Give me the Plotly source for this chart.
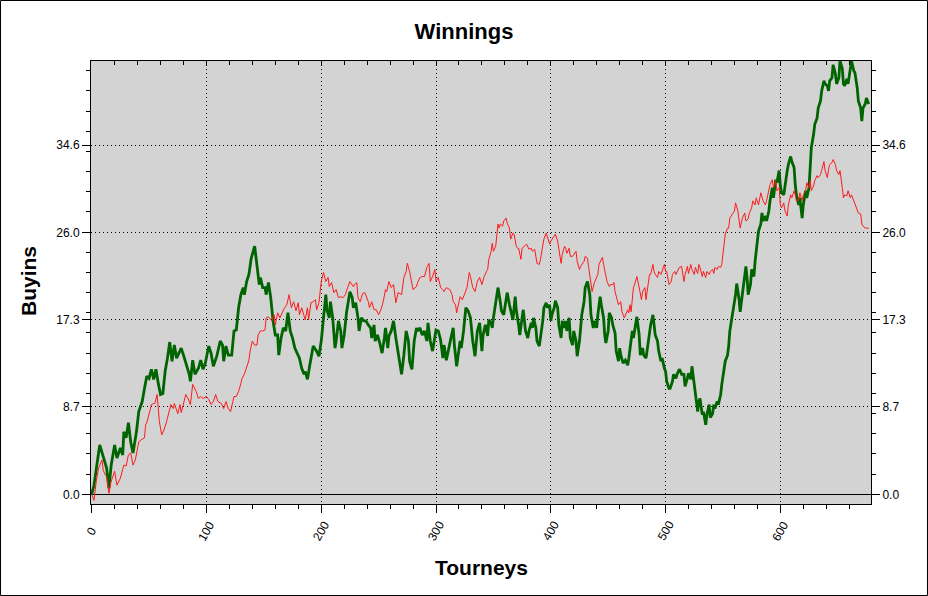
import plotly.graph_objects as go

# ---------------- data ----------------
green_t = [0, 2, 7, 10, 13, 15, 17, 20, 22, 25, 27, 28, 30, 32, 34, 36, 39, 41, 44, 46, 48, 50, 52, 54, 56, 58,
           60, 62, 64, 66, 68, 70, 72, 74, 76, 78, 80, 83, 85, 86, 88, 90, 93, 95, 97, 99, 102, 104, 106, 109,
           112, 114, 115,
           117, 119, 122, 124, 126, 128, 130, 132, 133, 135, 137, 139, 142, 144, 146, 147, 149, 151, 152, 154,
           156, 158, 160, 162, 163, 165, 167, 169, 171, 173, 175, 177, 179, 181, 183, 185, 186, 188, 190, 192,
           193, 196, 198, 200, 202, 204, 205, 207, 208, 210, 212, 213, 215, 217, 218, 220, 222, 225, 227, 228,
           230, 232, 233, 235, 237, 239, 241, 243, 244, 246, 247, 249, 251, 253, 255, 256, 258, 259, 261, 263,
           265, 267, 269, 270, 272, 274, 276, 277, 279, 281, 283, 284, 286, 288, 290, 292, 293, 295, 297, 299,
           300, 302, 304, 306, 307, 309, 311, 313, 315, 316, 318, 320, 321, 322, 324, 326, 328, 330, 332, 334,
           336, 338, 340, 341, 343, 345,
           346, 348, 349, 350, 352, 354, 356, 357, 359, 360, 362, 364, 365, 367, 369, 370, 372, 373, 375, 376,
           378, 380, 381, 383, 384, 385, 387, 388, 390, 391, 393, 394, 396, 397, 399, 400, 401, 403, 404, 406,
           407, 409, 410, 412, 413, 414, 416, 417, 419, 420, 422, 423, 425, 426, 427, 429, 430, 432, 434, 435,
           437, 438, 440, 441, 443, 444, 446, 447, 448, 450, 451, 453, 454, 456, 457, 459, 460, 461, 463,
           465, 467, 468, 470, 471, 472, 474, 475, 477, 478, 480, 481, 483, 485, 486, 487, 489, 490, 491, 493,
           494, 496, 497, 499, 500, 501, 503, 504, 506, 507, 509, 510, 512, 513, 514, 516, 517, 519, 520, 522,
           523, 525, 526, 528, 529, 530, 532, 533, 535, 536, 538, 539, 541, 542, 543, 545, 546, 548, 549, 551,
           552, 554, 555, 556, 558, 560, 561, 562, 564, 565, 567, 568, 570, 571, 572, 574, 575, 577, 578, 580,
           581, 583, 584, 585, 587, 588, 590, 591, 593, 594, 596, 597, 599, 600, 601, 603, 604, 606, 607, 609,
           610, 612, 613, 614, 616, 617, 619, 620, 622, 623, 625, 626, 627, 629, 630, 632, 633, 635, 636, 638,
           639, 641, 642, 643, 645, 646, 648, 649, 651, 652, 654, 655, 656, 658, 659, 661, 662, 664, 665, 667,
           668, 670, 671, 672, 674, 675, 677]
green_v = [0.0, 0.9, 4.9, 3.7, 2.6, 0.6, 2.9, 4.9, 3.6, 4.6, 3.9, 6.2, 5.6, 7.1, 5.2, 4.1, 6.2, 8.2, 9.2, 10.5,
           11.7, 11.5, 12.4, 11.4, 12.4, 11.0, 9.9, 10.0, 12.2, 13.5, 15.1, 13.2, 14.8, 13.5, 14.0, 14.5, 13.8,
           12.7, 11.9, 11.2, 13.3, 11.9, 12.5, 13.3, 12.4, 13.0, 14.7, 14.0, 12.7, 13.7, 15.2, 14.8, 13.2,
           14.7, 13.8, 13.8, 16.2, 16.3, 18.5, 19.8, 20.5, 19.8, 21.1, 21.8, 23.4, 24.6, 22.8, 20.8, 21.5, 20.5,
           20.5, 19.8, 21.0, 19.5, 17.2, 15.8, 15.8, 13.8, 15.5, 16.5, 16.2, 18.0, 16.2, 15.5, 14.5, 14.0, 13.5,
           12.5, 11.9, 12.2, 11.4, 12.8, 14.0, 14.7, 14.2, 13.7, 15.2, 17.5, 19.8, 18.3, 17.5, 19.1, 17.5, 14.5,
           15.2, 17.2, 16.2, 14.5, 15.8, 18.0, 20.1, 19.5, 18.5,
           19.0, 17.5, 16.2, 17.5, 17.2, 17.2, 16.8, 16.5, 15.5, 16.8, 15.2, 15.8, 15.0, 14.0, 15.5, 16.5, 14.5,
           15.7, 16.2, 17.2, 15.5, 14.0, 12.8, 11.9, 13.8, 16.2, 15.2, 13.2, 12.4, 15.2, 16.5, 16.2, 16.5, 15.8,
           16.2, 15.2, 17.0, 15.2, 14.2, 15.7, 16.3, 16.2, 15.3, 13.5, 14.8, 13.3, 14.5, 15.5, 16.5, 14.8, 12.7,
           14.2, 15.2, 14.5, 16.2, 18.5, 18.2, 17.5, 15.2, 13.7, 16.2, 17.0, 14.2, 15.8, 16.8, 15.7,
           17.3, 17.0, 16.5, 17.5, 18.8, 20.5, 19.1, 18.2, 17.8, 18.5, 20.0, 18.8, 18.2, 17.3, 19.6, 18.2, 16.8,
           15.8, 17.5, 18.3, 16.2, 15.5, 16.2, 17.0, 16.5, 17.5, 16.5, 15.2, 14.7, 15.5, 17.2, 18.5, 19.0, 18.5,
           18.8, 17.2, 17.8, 18.5, 19.2, 18.5, 16.8, 15.5, 17.2, 16.5, 17.2, 16.2, 17.5, 15.5, 14.8, 16.2, 15.2,
           13.7, 15.2, 16.5, 17.8, 19.1, 20.5, 21.1, 19.8, 17.8, 16.5, 17.2, 16.5, 17.8, 19.6, 18.8, 17.5, 15.8,
           15.0, 16.2, 18.0, 17.5, 16.8, 16.0, 14.2, 13.2, 14.5, 13.8, 13.0,
           13.3, 12.8, 13.5, 15.2, 16.2, 15.5, 16.7, 17.6, 15.8, 13.8, 14.5, 13.8, 13.5, 15.2, 16.2, 16.8, 17.8,
           16.7, 15.8, 15.2, 14.2, 13.2, 13.5, 12.5, 12.2, 11.2, 10.5, 10.5, 11.2, 11.9, 11.5, 11.9, 12.4, 12.2,
           11.9, 11.9, 10.7, 11.5, 12.0, 11.4, 12.7, 10.9, 9.9, 8.2, 9.2, 9.5, 7.9, 8.2, 6.9, 7.9, 8.9, 7.6, 8.0,
           8.9, 8.5, 9.2, 8.9, 9.9, 10.9, 12.2, 13.2, 13.8, 14.7, 16.2, 17.5, 18.8, 19.8, 20.9, 19.4, 18.1, 19.8,
           21.1, 22.6, 21.5, 19.8, 20.8, 22.3, 21.6, 23.1, 25.1, 26.1, 26.8, 27.9, 27.1, 27.6, 27.1, 28.1, 29.1,
           30.4, 29.4, 31.2, 30.9, 32.1, 30.6, 29.9, 29.7, 30.7, 32.1, 32.7, 33.5, 33.0, 32.4, 30.7, 29.7, 28.7,
           29.4, 27.4, 28.7, 30.1, 29.4, 30.4, 32.4, 34.4, 35.7, 36.7, 37.3, 38.3, 39.0, 40.0, 41.0, 40.7, 40.5,
           40.0, 41.0, 41.3, 42.6, 41.7, 40.7, 41.3, 43.0, 42.2, 40.7, 40.5, 41.2, 40.7, 42.2, 43.0, 42.0, 41.8,
           40.3, 39.0, 38.3, 37.0, 38.3, 38.7, 39.3, 38.7]

red_t = [0, 2, 4, 6, 9, 10, 12, 13, 15, 17, 20, 22, 25, 27, 28, 30, 32, 34, 36, 38, 40, 41, 43, 46, 47, 48, 51,
         52, 54, 55, 57, 58, 59, 61, 63, 65, 67, 69, 71, 72, 75, 77, 78, 80, 82, 84, 86, 88, 91, 93, 95, 97, 100,
         102, 104, 106, 108, 110, 113, 115,
         117, 119, 121, 123, 124, 126, 128, 130, 131, 133, 135, 137, 138, 140, 142, 144, 145, 147, 149, 151, 152,
         154, 157, 159, 160, 162, 164, 166, 168, 170, 172, 174, 176, 178, 180, 181, 183, 186, 188, 189, 191, 193,
         195, 196, 198, 200, 202, 204, 206, 207, 209, 211, 213, 215, 217, 219, 221, 223, 225, 228,
         229, 231, 232, 234, 236, 238, 241, 242, 244, 246, 248, 250, 252, 254, 256, 257, 259, 261, 263, 265, 267,
         270, 272, 274, 275, 277, 279, 280, 283, 284, 286, 288, 290, 292, 294, 295, 297, 299, 300, 302, 304, 306,
         307, 309, 312, 314, 315, 317, 318, 320, 321, 323, 325, 327, 329, 330, 332, 334, 336, 338, 340, 342, 344,
         345,
         346, 348, 349, 350, 352, 354, 355, 356, 358, 359, 361, 362, 364, 365, 367, 368, 370, 371, 372, 374, 375,
         377, 379, 381, 383, 384, 386, 388, 390, 391, 393, 394, 396, 397, 399, 400, 401, 403, 404, 406, 407, 409,
         410, 412, 413, 414, 416, 417, 419, 420, 422, 423, 425, 426, 427, 429, 430, 432, 433, 435, 436, 438, 439,
         441, 442, 443, 445, 446, 448, 449, 451, 452, 454, 455, 456, 458, 459, 461, 462, 464,
         465, 467, 468, 469, 470, 472, 473, 475, 476, 478, 479, 480, 482, 483, 485, 486, 487, 489, 490, 491, 493,
         494, 496, 497, 499, 500, 501, 503, 505, 506, 508, 509, 511, 512, 514, 516, 517, 519, 520, 522, 523, 525,
         526, 528, 529, 530, 532, 533, 535, 536, 538, 539, 541, 542, 543, 545, 546, 548, 549, 550, 551, 552, 554,
         555, 556, 558, 560, 561, 563, 565, 566, 567, 569, 570, 572, 573, 575, 576, 578, 579, 581, 582, 583, 585,
         587, 588, 590, 591, 593, 594, 596, 597, 599, 600, 601, 603, 604, 606, 607, 609, 610, 612, 613, 614, 616,
         617, 619, 620, 622, 623, 625, 626, 627, 629, 630, 632, 633, 635, 636, 638, 639, 641, 642, 643, 645, 646,
         648, 649, 651, 652, 654, 655, 656, 658, 659, 661, 662, 664, 665, 667, 668, 670, 671, 672, 674, 675, 677]
red_v = [0.0, -0.6, 1.3, 2.6, 3.4, 2.4, 1.9, 1.8, 0.1, 1.3, 2.3, 0.9, 1.6, 2.6, 2.9, 2.8, 3.9, 4.1, 2.9, 3.4, 4.7,
         5.2, 5.4, 5.6, 6.9, 7.1, 8.4, 8.9, 9.0, 9.0, 9.9, 8.2, 7.2, 5.9, 6.4, 7.1, 7.9, 8.9, 8.5, 9.0, 8.0, 8.9,
         8.1, 9.0, 9.9, 9.5, 8.9, 10.9, 10.2, 9.5, 9.7, 9.5, 9.7, 9.4, 8.9, 9.2, 9.9, 9.2, 9.0, 8.5,
         9.2, 8.5, 8.2, 9.2, 9.7, 9.7, 10.2, 11.0, 11.5, 11.9, 12.5, 13.3, 14.2, 15.2, 14.8, 14.8, 15.8, 16.2,
         16.2, 16.3, 17.5, 17.6, 17.2, 17.8, 16.8, 18.0, 17.5, 18.1, 18.5, 18.8, 19.8, 18.5, 19.1, 18.2, 19.0,
         17.8, 18.5, 17.3, 18.5, 17.3, 19.0, 19.1, 19.3, 18.3, 19.0, 21.1, 22.0, 21.1, 21.5, 20.6, 21.0, 20.0,
         20.3, 19.5, 19.6, 19.5, 19.8, 20.5, 21.1, 20.6,
         20.8, 21.0, 19.5, 19.1, 19.9, 20.0, 19.1, 18.5, 19.1, 18.3, 18.3, 17.8, 18.3, 19.1, 20.3, 20.1, 21.1,
         20.5, 20.8, 19.0, 20.0, 19.8, 21.5, 22.1, 22.9, 22.1, 20.8, 20.3, 20.6, 21.0, 21.5, 21.6, 21.6, 22.5,
         22.9, 21.1, 21.6, 22.3, 21.1, 21.5, 20.5, 20.3, 20.1, 20.5, 20.3, 19.8, 19.1, 18.8, 18.0, 19.0, 19.6,
         19.3, 20.0, 20.5, 22.0, 21.6, 20.5, 20.1, 21.1, 21.5, 20.8, 21.6, 22.1, 22.3,
         23.3, 24.1, 24.9, 24.1, 24.6, 26.8, 26.4, 26.8, 26.6, 27.1, 27.4, 26.9, 26.4, 25.3, 25.9, 25.8, 24.6,
         24.4, 24.4, 23.3, 24.4, 24.6, 24.8, 24.3, 24.4, 24.1, 24.3, 22.9, 22.8, 23.3, 24.4, 25.3, 25.9, 25.6,
         24.8, 25.1, 25.3, 25.6, 25.8, 25.1, 24.4, 22.9, 23.8, 24.6, 24.4, 23.9, 24.4, 23.6, 23.6, 23.8, 24.1,
         23.1, 22.3, 22.6, 22.8, 23.1, 23.6, 23.4, 22.5, 21.1, 20.1, 21.0, 21.3, 21.8, 22.8, 23.1, 23.5, 22.8,
         21.8, 21.1, 20.6, 20.8, 20.8, 21.0, 20.1, 19.1, 18.8, 19.1, 18.1, 17.5,
         17.8, 18.3, 18.0, 18.8, 18.1, 20.5, 20.8, 21.6, 21.1, 20.1, 19.3, 20.1, 20.5, 19.3, 20.8, 21.8, 21.8,
         22.8, 22.1, 21.8, 21.5, 22.1, 21.8, 22.1, 22.8, 22.1, 22.1, 20.8, 21.1, 21.8, 22.1, 21.8, 22.3, 22.5,
         22.6, 21.1, 21.8, 22.6, 21.9, 22.8, 22.3, 21.8, 22.5, 21.9, 22.8, 22.5, 21.6, 22.1, 21.5, 22.1, 21.8,
         22.1, 22.3, 21.9, 22.5, 22.3, 22.6, 22.5, 22.8, 23.8, 25.4, 25.8, 26.4, 26.4, 27.4, 27.7, 28.1, 28.9,
         28.1, 26.4, 27.1, 27.4, 27.9, 27.1, 27.3, 27.9, 28.4, 29.1, 28.7, 29.4, 28.7, 29.4, 29.9, 29.1,
         28.7, 29.1, 30.1, 30.7, 31.2, 30.4, 31.1, 30.1, 30.4, 28.7, 28.4, 28.9, 28.1, 27.6, 28.7, 29.7, 29.4,
         30.1, 29.7, 29.1, 29.2, 29.9, 29.1, 29.7, 30.1, 30.9, 30.4, 31.1, 30.1, 30.6, 31.1, 31.6, 31.4, 31.7,
         32.1, 33.0, 32.1, 31.4, 32.2, 32.7, 32.9, 33.2, 32.7, 32.1, 31.7, 32.1, 30.4, 29.4, 29.7, 29.6, 30.1,
         29.4, 29.7, 29.1, 28.7, 28.1, 27.9, 27.8, 26.8, 26.6, 26.4, 26.4, 26.4]

x_tick_vals = [0, 100, 200, 300, 400, 500, 600]
y_tick_vals = [0.0, 8.66, 17.32, 25.98, 34.64]
y_tick_text = ["0.0", "8.7", "17.3", "26.0", "34.6"]
x_range = [-0.6, 679]
y_range = [-0.96, 42.97]

title_text = "Winnings"
x_title = "Tourneys"
y_title = "Buyins"

# ---------------- figure ----------------
W, H = 928, 596
ML, MR, MT, MB = 91, 57, 61, 92
PW, PH = W - ML - MR, H - MT - MB

FONT = "Liberation Sans, Arial, sans-serif"

fig = go.Figure()
fig.add_trace(go.Scatter(x=green_t, y=green_v, mode="lines", xaxis="x", yaxis="y",
                         line=dict(color="#006400", width=2.8), hoverinfo="skip", showlegend=False))
fig.add_trace(go.Scatter(x=red_t, y=red_v, mode="lines", xaxis="x2", yaxis="y2",
                         line=dict(color="#ff1a1a", width=1), hoverinfo="skip", showlegend=False))

grid = dict(showgrid=True, gridcolor="black", gridwidth=1, griddash="1px,3px")
common_x = dict(range=x_range, autorange=False, tickmode="array", tickvals=x_tick_vals,
                showticklabels=False, zeroline=False, tickcolor="black", tickwidth=1)
common_y = dict(range=y_range, autorange=False, tickmode="array", tickvals=y_tick_vals,
                ticktext=y_tick_text, zeroline=False, tickcolor="black", tickwidth=1,
                tickfont=dict(family=FONT, size=12, color="black"))

fig.update_layout(
    width=W, height=H,
    margin=dict(l=ML, r=MR, t=MT, b=MB, pad=0),
    paper_bgcolor="white", plot_bgcolor="#d3d3d3",
    showlegend=False,
    title=dict(text="<b>%s</b>" % title_text, x=0.5, xref="container", xanchor="center",
               y=1 - 31.5 / H, yref="container", yanchor="middle",
               font=dict(family=FONT, size=22, color="black")),
    xaxis=dict(**common_x, side="bottom", anchor="y", showline=True, linecolor="black", linewidth=1,
               ticks="outside", ticklen=8, **grid,
               minor=dict(ticks="outside", ticklen=4, tick0=0, dtick=20, tickcolor="black", showgrid=False)),
    xaxis2=dict(**common_x, side="top", anchor="y2", overlaying="x", showline=True, linecolor="black",
                linewidth=1, showgrid=False, ticks="inside", ticklen=4,
                minor=dict(ticks="inside", ticklen=4, tick0=0, dtick=20, tickcolor="black", showgrid=False)),
    xaxis3=dict(**common_x, side="bottom", anchor="y", overlaying="x", showline=False, showgrid=False,
                ticks="inside", ticklen=10,
                minor=dict(ticks="inside", ticklen=4, tick0=0, dtick=20, tickcolor="black", showgrid=False)),
    yaxis=dict(**common_y, side="left", anchor="x", showline=True, linecolor="black", linewidth=1,
               ticks="outside", ticklen=8, **grid,
               zerolinecolor="black", zerolinewidth=1,
               minor=dict(ticks="outside", ticklen=4, tick0=0, dtick=2, tickcolor="black", showgrid=False)),
    yaxis2=dict(**common_y, side="right", anchor="x2", overlaying="y", showline=True, linecolor="black",
                linewidth=1, showgrid=False, ticks="outside", ticklen=8,
                minor=dict(ticks="outside", ticklen=4, tick0=0, dtick=2, tickcolor="black", showgrid=False)),
    yaxis3=dict(**common_y, side="left", anchor="x", overlaying="y", showline=False, showgrid=False,
                showticklabels=False, ticks="inside", ticklen=4),
    yaxis4=dict(**common_y, side="right", anchor="x", overlaying="y", showline=False, showgrid=False,
                showticklabels=False, ticks="inside", ticklen=7),
)
fig.layout.yaxis.zeroline = True

# rotated x tick labels, centred on their ticks
for v in x_tick_vals:
    fig.add_annotation(x=v, xref="x", y=-(531 - (H - MB)) / PH, yref="paper",
                       text=str(v), showarrow=False, textangle=-60, xanchor="center", yanchor="middle",
                       font=dict(family=FONT, size=12, color="black"))

# axis titles
fig.add_annotation(x=0.5, xref="paper", y=-(567 - (H - MB)) / PH, yref="paper", text="<b>%s</b>" % x_title,
                   showarrow=False, xanchor="center", yanchor="middle",
                   font=dict(family=FONT, size=21, color="black"))
fig.add_annotation(x=-(ML - 28) / PW, xref="paper", y=(H - MB - 281) / PH, yref="paper",
                   text="<b>%s</b>" % y_title, showarrow=False, textangle=-90,
                   xanchor="center", yanchor="middle", font=dict(family=FONT, size=21, color="black"))

# frame around the whole picture
fig.add_shape(type="rect", xref="paper", yref="paper",
              x0=(0.5 - ML) / PW, x1=(W - 0.5 - ML) / PW,
              y0=(H - MB - (H - 0.5)) / PH, y1=(H - MB - 0.5) / PH,
              line=dict(color="black", width=1), layer="below")

fig.write_html("out.html", config={"displayModeBar": False},
               post_script="document.body.style.margin='0';document.body.style.overflow='hidden';")
